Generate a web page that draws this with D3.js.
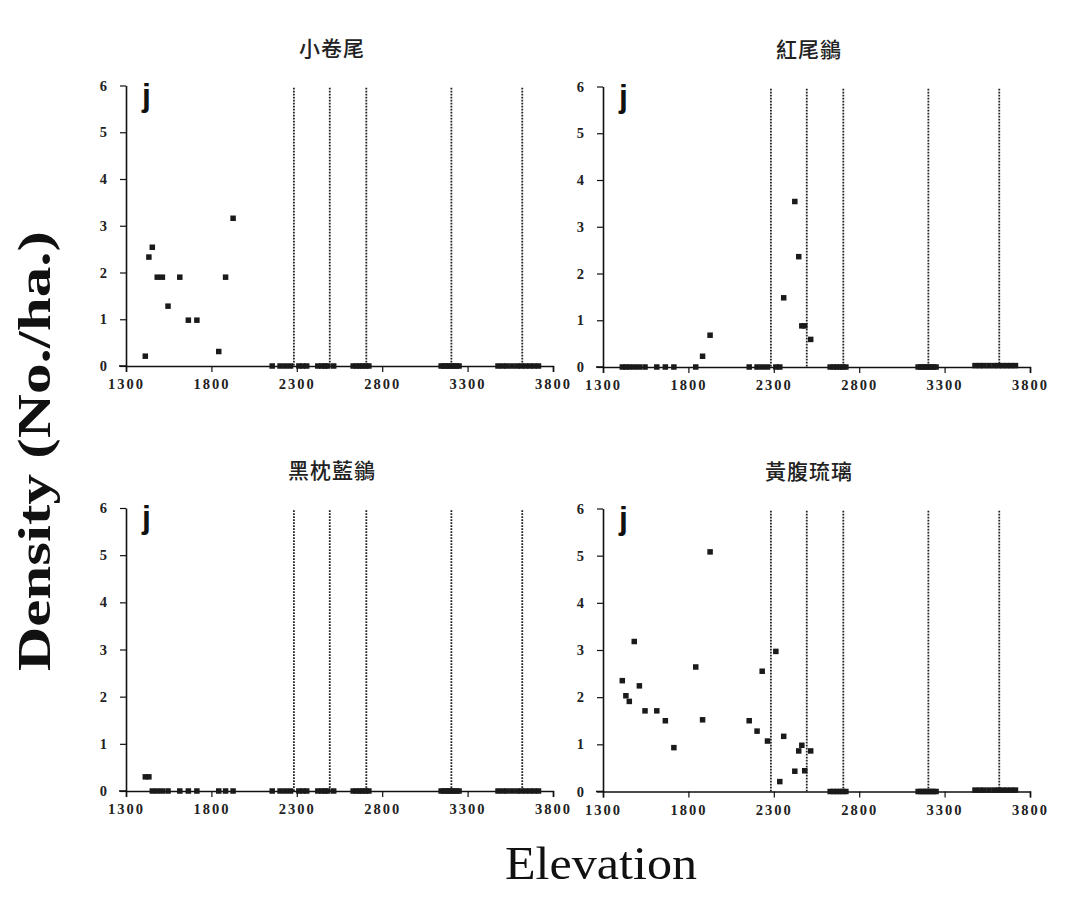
<!DOCTYPE html>
<html>
<head>
<meta charset="utf-8">
<script src="https://cdn.jsdelivr.net/npm/d3@7"></script>
<style>
  html, body { margin: 0; padding: 0; background: #fff; }
  svg { display: block; }
</style>
</head>
<body>
<svg id="chart" width="1068" height="899"></svg>
<script>
// ---------------- DATA ----------------
const speciesNames = ["小卷尾", "紅尾鶲", "黑枕藍鶲", "黃腹琉璃"];
const panelLetter = "j";

// sampling-site elevations (m)
const siteElevations = [
  1413, 1434, 1454, 1483, 1513, 1546, 1615, 1665, 1715, 1843, 1883, 1927,
  2156, 2202, 2232, 2263, 2312, 2335, 2358, 2423, 2446, 2464, 2481, 2516,
  2630, 2650, 2668, 2686, 2704, 2722,
  3145, 3160, 3175, 3190, 3205, 3220, 3235, 3250,
  3478, 3505, 3530, 3560, 3590, 3615, 3640, 3665, 3690, 3715
];

// densities (No./ha.) per site for each species
const densXiaojuanwei = [
  0.21, 2.33, 2.54, 1.90, 1.90, 1.28, 1.90, 0.98, 0.98, 0.31, 1.90, 3.16,
  0, 0, 0, 0, 0, 0, 0, 0, 0, 0, 0, 0,
  0, 0, 0, 0, 0, 0,
  0, 0, 0, 0, 0, 0, 0, 0,
  0, 0, 0, 0, 0, 0, 0, 0, 0, 0
];
const densHongweiweng = [
  0, 0, 0, 0, 0, 0, 0, 0, 0, 0, 0.23, 0.68,
  0, 0, 0, 0, 0, 0, 1.48, 3.54, 2.36, 0.88, 0.88, 0.59,
  0, 0, 0, 0, 0, 0,
  0, 0, 0, 0, 0, 0, 0, 0,
  0.03, 0.03, 0.03, 0.03, 0.03, 0.03, 0.03, 0.03, 0.03, 0.03
];
const densHeizhenlanweng = [
  0.30, 0.30, 0, 0, 0, 0, 0, 0, 0, 0, 0, 0,
  0, 0, 0, 0, 0, 0, 0, 0, 0, 0, 0, 0,
  0, 0, 0, 0, 0, 0,
  0, 0, 0, 0, 0, 0, 0, 0,
  0, 0, 0, 0, 0, 0, 0, 0, 0, 0
];
const densHuangfuliuli = [
  2.35, 2.03, 1.91, 3.18, 2.24, 1.71, 1.71, 1.50, 0.93, 2.64, 1.52, 5.08,
  1.50, 1.28, 2.55, 1.07, 2.97, 0.21, 1.17, 0.43, 0.86, 0.98, 0.44, 0.86,
  0, 0, 0, 0, 0, 0,
  0, 0, 0, 0, 0, 0, 0, 0,
  0.03, 0.03, 0.03, 0.03, 0.03, 0.03, 0.03, 0.03, 0.03, 0.03
];
const speciesDensities = [densXiaojuanwei, densHongweiweng, densHeizhenlanweng, densHuangfuliuli];

// vegetation-zone boundary elevations (dotted lines)
const boundaryElevations = [2283, 2493, 2707, 3205, 3620];

const xTickValues = [1300, 1800, 2300, 2800, 3300, 3800];
const yTickValues = [0, 1, 2, 3, 4, 5, 6];
const xDomain = [1300, 3800];
const yDomain = [0, 6];

const xAxisTitle = "Elevation";
const yAxisTitle = "Density (No./ha.)";

// ---------------- LAYOUT ----------------
const svg = d3.select("#chart");
const panelW = 427;
const panelOrigins = [
  { x: 126, yBottom: 366, yTop: 85.5 },
  { x: 603, yBottom: 367, yTop: 86.5 },
  { x: 126, yBottom: 791, yTop: 508 },
  { x: 603, yBottom: 791.5, yTop: 508.5 }
];
const serif = "'Liberation Serif', 'DejaVu Serif', serif";
const cjk = "'Noto Sans CJK TC', 'Noto Sans CJK SC', sans-serif";

speciesNames.forEach((name, i) => {
  const o = panelOrigins[i];
  const dens = speciesDensities[i];
  const x = d3.scaleLinear().domain(xDomain).range([o.x, o.x + panelW]);
  const y = d3.scaleLinear().domain(yDomain).range([o.yBottom, o.yTop]);
  const g = svg.append("g");

  // title
  g.append("text")
    .attr("x", o.x + 206)
    .attr("y", o.yTop - 30)
    .attr("text-anchor", "middle")
    .attr("font-family", cjk)
    .attr("font-weight", 500)
    .attr("font-size", 21)
    .attr("letter-spacing", 1)
    .attr("fill", "#222")
    .text(name);

  // boundary dotted lines
  g.selectAll("line.zone").data(boundaryElevations).join("line")
    .attr("class", "zone")
    .attr("x1", d => x(d)).attr("x2", d => x(d))
    .attr("y1", y(5.95)).attr("y2", y(0))
    .attr("stroke", "#222")
    .attr("stroke-width", 1.8)
    .attr("stroke-dasharray", "1.6,1.4");

  // small extension of x-axis to the left of y-axis
  g.append("line")
    .attr("x1", x(xDomain[0]) - 7).attr("x2", x(xDomain[0]))
    .attr("y1", y(0)).attr("y2", y(0))
    .attr("stroke", "#111").attr("stroke-width", 1.6);

  // x axis
  const xAxis = g.append("g")
    .attr("transform", `translate(0,${y(0)})`)
    .call(d3.axisBottom(x).tickValues(xTickValues).tickSize(6).tickSizeOuter(6).tickPadding(7).tickFormat(d3.format("d")));
  xAxis.select(".domain").attr("stroke", "#111").attr("stroke-width", 1.6);
  xAxis.selectAll(".tick line").attr("stroke", "#111").attr("stroke-width", 1.2);
  xAxis.selectAll(".tick text")
    .attr("font-family", serif).attr("font-weight", "bold")
    .attr("font-size", 14.5).attr("letter-spacing", 2).attr("fill", "#222");

  // y axis
  const yAxis = g.append("g")
    .attr("transform", `translate(${x(xDomain[0])},0)`)
    .call(d3.axisLeft(y).tickValues(yTickValues).tickSize(6).tickSizeOuter(0).tickPadding(13).tickFormat(d3.format("d")));
  yAxis.select(".domain").attr("stroke", "#111").attr("stroke-width", 1.6);
  yAxis.selectAll(".tick line").attr("stroke", "#111").attr("stroke-width", 1.2);
  yAxis.selectAll(".tick text")
    .attr("font-family", serif).attr("font-weight", "bold")
    .attr("font-size", 14.5).attr("fill", "#222");

  // panel letter
  g.append("text")
    .attr("x", o.x + 16)
    .attr("y", o.yTop + 20)
    .attr("font-family", "'Liberation Sans', Arial, sans-serif")
    .attr("font-weight", "bold")
    .attr("font-size", 32)
    .attr("fill", "#111")
    .text(panelLetter);

  // points
  const pts = siteElevations.map((e, k) => ({ e, d: dens[k] }));
  g.selectAll("rect.pt").data(pts).join("rect")
    .attr("class", "pt")
    .attr("x", d => x(d.e) - 2.75)
    .attr("y", d => y(d.d) - 2.75)
    .attr("width", 5.5).attr("height", 5.5)
    .attr("fill", "#1a1a1a");
});

// axis titles
svg.append("text")
  .attr("transform", "translate(50,451) rotate(-90)")
  .attr("text-anchor", "middle")
  .attr("font-family", serif)
  .attr("font-weight", "bold")
  .attr("font-size", 46)
  .attr("textLength", 440)
  .attr("lengthAdjust", "spacingAndGlyphs")
  .attr("fill", "#111")
  .text(yAxisTitle);

svg.append("text")
  .attr("x", 601)
  .attr("y", 879)
  .attr("text-anchor", "middle")
  .attr("font-family", serif)
  .attr("font-size", 46)
  .attr("textLength", 192)
  .attr("lengthAdjust", "spacingAndGlyphs")
  .attr("fill", "#111")
  .text(xAxisTitle);
</script>
</body>
</html>
